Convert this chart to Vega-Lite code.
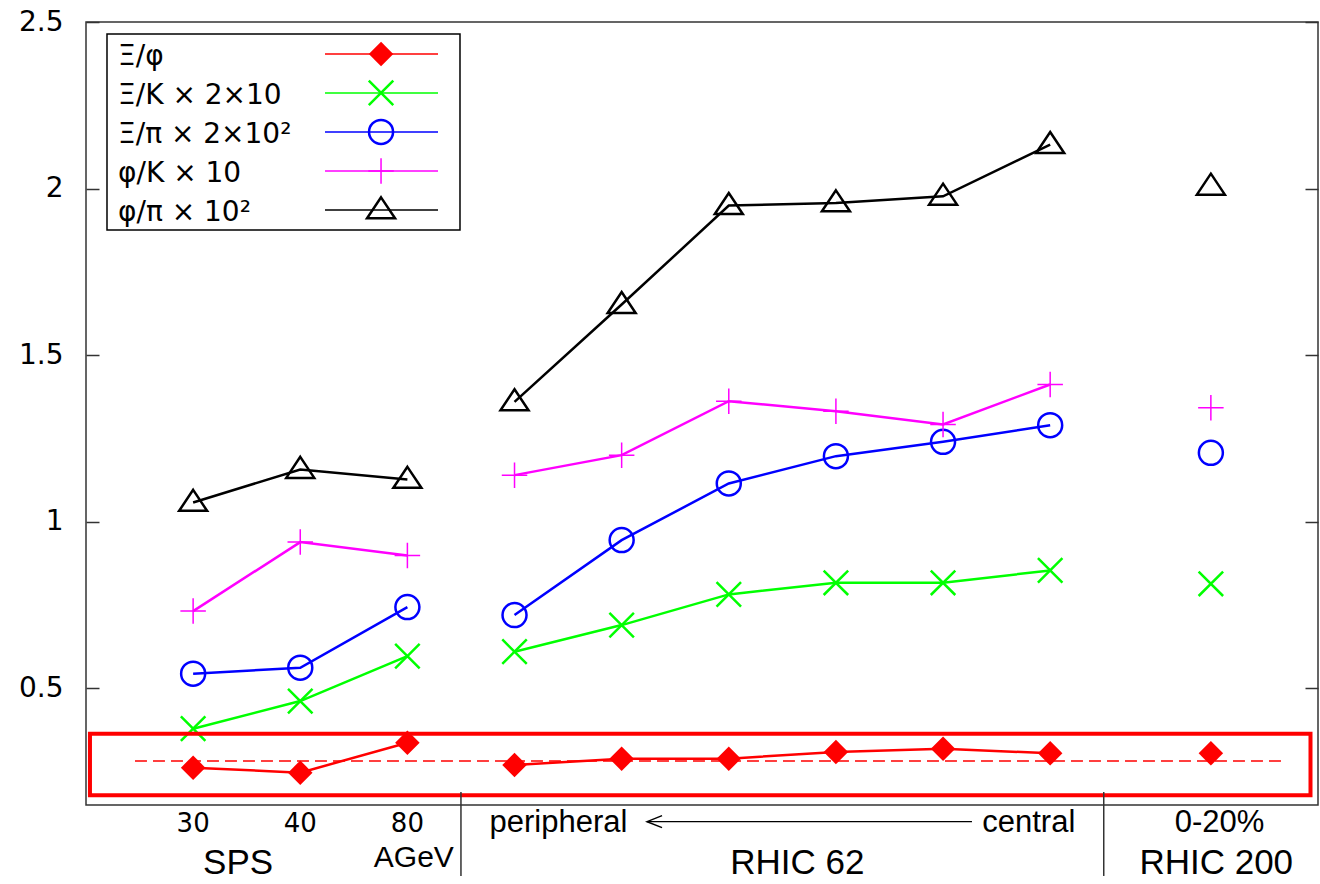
{
  "$schema": "https://vega.github.io/schema/vega-lite/v6.json",
  "width": 1232,
  "height": 783,
  "autosize": {"type": "none"},
  "padding": {"left": 86, "top": 22, "right": 2, "bottom": 79},
  "background": "white",
  "config": {"view": {"stroke": "#333333", "strokeWidth": 1.5}, "font": "DejaVu Sans"},
  "datasets": {
    "pts": [
      {"series": "phipi", "grp": "sps", "x": 1, "y": 1.058},
      {"series": "phipi", "grp": "sps", "x": 2, "y": 1.157},
      {"series": "phipi", "grp": "sps", "x": 3, "y": 1.127},
      {"series": "phipi", "grp": "r62", "x": 4, "y": 1.36},
      {"series": "phipi", "grp": "r62", "x": 5, "y": 1.652},
      {"series": "phipi", "grp": "r62", "x": 6, "y": 1.949},
      {"series": "phipi", "grp": "r62", "x": 7, "y": 1.957},
      {"series": "phipi", "grp": "r62", "x": 8, "y": 1.977},
      {"series": "phipi", "grp": "r62", "x": 9, "y": 2.132},
      {"series": "phipi", "grp": "r200", "x": 10.5, "y": 2.007},
      {"series": "phik", "grp": "sps", "x": 1, "y": 0.732},
      {"series": "phik", "grp": "sps", "x": 2, "y": 0.939},
      {"series": "phik", "grp": "sps", "x": 3, "y": 0.899},
      {"series": "phik", "grp": "r62", "x": 4, "y": 1.14},
      {"series": "phik", "grp": "r62", "x": 5, "y": 1.2},
      {"series": "phik", "grp": "r62", "x": 6, "y": 1.362},
      {"series": "phik", "grp": "r62", "x": 7, "y": 1.332},
      {"series": "phik", "grp": "r62", "x": 8, "y": 1.292},
      {"series": "phik", "grp": "r62", "x": 9, "y": 1.412},
      {"series": "phik", "grp": "r200", "x": 10.5, "y": 1.342},
      {"series": "xipi", "grp": "sps", "x": 1, "y": 0.544},
      {"series": "xipi", "grp": "sps", "x": 2, "y": 0.562},
      {"series": "xipi", "grp": "sps", "x": 3, "y": 0.744},
      {"series": "xipi", "grp": "r62", "x": 4, "y": 0.72},
      {"series": "xipi", "grp": "r62", "x": 5, "y": 0.945},
      {"series": "xipi", "grp": "r62", "x": 6, "y": 1.115},
      {"series": "xipi", "grp": "r62", "x": 7, "y": 1.197},
      {"series": "xipi", "grp": "r62", "x": 8, "y": 1.24},
      {"series": "xipi", "grp": "r62", "x": 9, "y": 1.29},
      {"series": "xipi", "grp": "r200", "x": 10.5, "y": 1.207},
      {"series": "xik", "grp": "sps", "x": 1, "y": 0.379},
      {"series": "xik", "grp": "sps", "x": 2, "y": 0.462},
      {"series": "xik", "grp": "sps", "x": 3, "y": 0.597},
      {"series": "xik", "grp": "r62", "x": 4, "y": 0.61},
      {"series": "xik", "grp": "r62", "x": 5, "y": 0.69},
      {"series": "xik", "grp": "r62", "x": 6, "y": 0.782},
      {"series": "xik", "grp": "r62", "x": 7, "y": 0.817},
      {"series": "xik", "grp": "r62", "x": 8, "y": 0.817},
      {"series": "xik", "grp": "r62", "x": 9, "y": 0.854},
      {"series": "xik", "grp": "r200", "x": 10.5, "y": 0.814},
      {"series": "xiphi", "grp": "sps", "x": 1, "y": 0.262},
      {"series": "xiphi", "grp": "sps", "x": 2, "y": 0.247},
      {"series": "xiphi", "grp": "sps", "x": 3, "y": 0.337},
      {"series": "xiphi", "grp": "r62", "x": 4, "y": 0.27},
      {"series": "xiphi", "grp": "r62", "x": 5, "y": 0.289},
      {"series": "xiphi", "grp": "r62", "x": 6, "y": 0.289},
      {"series": "xiphi", "grp": "r62", "x": 7, "y": 0.309},
      {"series": "xiphi", "grp": "r62", "x": 8, "y": 0.319},
      {"series": "xiphi", "grp": "r62", "x": 9, "y": 0.305},
      {"series": "xiphi", "grp": "r200", "x": 10.5, "y": 0.305}
    ],
    "legend": [
      {"series": "xiphi", "label": "Ξ/φ", "cy": 2.404, "by": 2.372},
      {"series": "xik", "label": "Ξ/K × 2×10", "cy": 2.287, "by": 2.255},
      {"series": "xipi", "label": "Ξ/π × 2×10²", "cy": 2.17, "by": 2.138},
      {"series": "phik", "label": "φ/K × 10", "cy": 2.053, "by": 2.021},
      {"series": "phipi", "label": "φ/π × 10²", "cy": 1.936, "by": 1.904}
    ],
    "labels": [
      {"text": "30", "x": 1, "y": 0.069, "kind": "num"},
      {"text": "40", "x": 2, "y": 0.069, "kind": "num"},
      {"text": "80", "x": 3, "y": 0.069, "kind": "num"},
      {"text": "AGeV", "x": 3.06, "y": -0.035, "kind": "agev"},
      {"text": "SPS", "x": 1.42, "y": -0.057, "kind": "big"},
      {"text": "RHIC 62", "x": 6.64, "y": -0.057, "kind": "big"},
      {"text": "RHIC 200", "x": 10.55, "y": -0.057, "kind": "big"},
      {"text": "peripheral", "x": 4.41, "y": 0.069, "kind": "mid"},
      {"text": "central", "x": 8.8, "y": 0.069, "kind": "mid"},
      {"text": "0-20%", "x": 10.58, "y": 0.069, "kind": "mid"}
    ],
    "seps": [{"x": 3.5}, {"x": 9.5}]
  },
  "layer": [
    {
      "data": {"values": [{}]},
      "mark": {"type": "rule", "stroke": "#ff0000", "strokeWidth": 1.5, "strokeDash": [12, 6], "clip": false},
      "encoding": {
        "x": {"datum": 0.457, "type": "quantitative", "scale": {"domain": [0, 11.5], "nice": false, "zero": false}, "axis": null},
        "x2": {"datum": 11.155},
        "y": {"datum": 0.282, "type": "quantitative", "scale": {"domain": [0.15, 2.5], "nice": false, "zero": false},
          "axis": {"orient": "right", "values": [0.5, 1, 1.5, 2, 2.5], "labels": false, "domain": false, "grid": false, "ticks": true, "tickSize": -13, "tickColor": "#333333", "tickWidth": 1.5, "title": null}}
      }
    },
    {
      "data": {"name": "pts"},
      "mark": {"type": "line", "strokeWidth": 2.5},
      "encoding": {
        "x": {"field": "x", "type": "quantitative", "scale": {"domain": [0, 11.5], "nice": false, "zero": false}, "axis": null},
        "y": {"field": "y", "type": "quantitative", "scale": {"domain": [0.15, 2.5], "nice": false, "zero": false},
          "axis": {"orient": "left", "values": [0.5, 1, 1.5, 2, 2.5], "format": "~g", "domain": false, "grid": false, "ticks": true, "tickSize": -13, "tickColor": "#333333", "tickWidth": 1.5, "labelFont": "DejaVu Sans", "labelFontSize": 28, "labelColor": "#000000", "labelPadding": 36, "labelFlush": false, "labelOverlap": false, "title": null}},
        "color": {"field": "series", "type": "nominal", "scale": {"domain": ["xiphi", "xik", "xipi", "phik", "phipi"], "range": ["#ff0000", "#00ff00", "#0000ff", "#ff00ff", "#000000"]}, "legend": null},
        "detail": {"field": "grp"}
      }
    },
    {
      "data": {"name": "pts"},
      "encoding": {
        "x": {"field": "x", "type": "quantitative", "axis": null},
        "y": {"field": "y", "type": "quantitative", "axis": null}
      },
      "layer": [
        {"transform": [{"filter": "datum.series === 'xiphi'"}], "mark": {"type": "point", "shape": "diamond", "size": 600, "filled": true, "color": "#ff0000", "opacity": 1}},
        {"transform": [{"filter": "datum.series === 'xik'"}], "mark": {"type": "point", "shape": "M-1,-1L1,1M-1,1L1,-1", "size": 600, "filled": false, "color": "#00ff00", "strokeWidth": 2.5, "opacity": 1}},
        {"transform": [{"filter": "datum.series === 'xipi'"}], "mark": {"type": "point", "shape": "circle", "size": 576, "filled": false, "color": "#0000ff", "strokeWidth": 2.5, "opacity": 1}},
        {"transform": [{"filter": "datum.series === 'phik'"}], "mark": {"type": "point", "shape": "M-1,0L1,0M0,-1L0,1", "size": 650, "filled": false, "color": "#ff00ff", "strokeWidth": 1.5, "opacity": 1}},
        {"transform": [{"filter": "datum.series === 'phipi'"}], "mark": {"type": "point", "shape": "M0,-0.9L1,0.6L-1,0.6Z", "size": 784, "filled": false, "color": "#000000", "strokeWidth": 2.5, "opacity": 1}}
      ]
    },
    {
      "data": {"values": [{}]},
      "mark": {"type": "rect", "fillOpacity": 0, "stroke": "#ff0000", "strokeWidth": 4, "clip": false},
      "encoding": {
        "x": {"datum": 0.037, "type": "quantitative", "axis": null},
        "x2": {"datum": 11.43},
        "y": {"datum": 0.364, "type": "quantitative", "axis": null},
        "y2": {"datum": 0.179}
      }
    },
    {
      "data": {"name": "seps"},
      "mark": {"type": "rule", "stroke": "#333333", "strokeWidth": 1.5, "clip": false},
      "encoding": {
        "x": {"field": "x", "type": "quantitative", "axis": null},
        "y": {"datum": 0.189, "type": "quantitative", "axis": null},
        "y2": {"datum": -0.063}
      }
    },
    {
      "data": {"values": [{}]},
      "mark": {"type": "rule", "stroke": "#000000", "strokeWidth": 1.2, "clip": false},
      "encoding": {
        "x": {"datum": 5.237, "type": "quantitative", "axis": null},
        "x2": {"datum": 8.27},
        "y": {"datum": 0.1, "type": "quantitative", "axis": null}
      }
    },
    {
      "data": {"values": [{}]},
      "mark": {"type": "point", "shape": "M2,-0.8L0,0L2,0.8", "size": 225, "filled": false, "color": "#000000", "strokeWidth": 1.5, "opacity": 1, "clip": false},
      "encoding": {
        "x": {"datum": 5.237, "type": "quantitative", "axis": null},
        "y": {"datum": 0.1, "type": "quantitative", "axis": null}
      }
    },
    {
      "data": {"name": "labels"},
      "encoding": {
        "x": {"field": "x", "type": "quantitative", "axis": null},
        "y": {"field": "y", "type": "quantitative", "axis": null},
        "text": {"field": "text"}
      },
      "layer": [
        {"transform": [{"filter": "datum.kind === 'num'"}], "mark": {"type": "text", "font": "DejaVu Sans", "fontSize": 26, "align": "center", "baseline": "alphabetic", "color": "#000000", "clip": false}},
        {"transform": [{"filter": "datum.kind === 'mid'"}], "mark": {"type": "text", "font": "Liberation Sans", "fontSize": 31, "align": "center", "baseline": "alphabetic", "color": "#000000", "clip": false}},
        {"transform": [{"filter": "datum.kind === 'big'"}], "mark": {"type": "text", "font": "Liberation Sans", "fontSize": 35, "align": "center", "baseline": "alphabetic", "color": "#000000", "clip": false}},
        {"transform": [{"filter": "datum.kind === 'agev'"}], "mark": {"type": "text", "font": "Liberation Sans", "fontSize": 30, "align": "center", "baseline": "alphabetic", "color": "#000000", "clip": false}}
      ]
    },
    {
      "data": {"values": [{}]},
      "mark": {"type": "rect", "fill": "#ffffff", "stroke": "#000000", "strokeWidth": 1.5},
      "encoding": {
        "x": {"datum": 0.196, "type": "quantitative", "axis": null},
        "x2": {"datum": 3.491},
        "y": {"datum": 2.464, "type": "quantitative", "axis": null},
        "y2": {"datum": 1.876}
      }
    },
    {
      "data": {"name": "legend"},
      "mark": {"type": "rule", "strokeWidth": 1.5},
      "encoding": {
        "x": {"datum": 2.231, "type": "quantitative", "axis": null},
        "x2": {"datum": 3.286},
        "y": {"field": "cy", "type": "quantitative", "axis": null},
        "color": {"field": "series", "type": "nominal", "legend": null}
      }
    },
    {
      "data": {"name": "legend"},
      "encoding": {
        "x": {"datum": 2.754, "type": "quantitative", "axis": null},
        "y": {"field": "cy", "type": "quantitative", "axis": null}
      },
      "layer": [
        {"transform": [{"filter": "datum.series === 'xiphi'"}], "mark": {"type": "point", "shape": "diamond", "size": 600, "filled": true, "color": "#ff0000", "opacity": 1}},
        {"transform": [{"filter": "datum.series === 'xik'"}], "mark": {"type": "point", "shape": "M-1,-1L1,1M-1,1L1,-1", "size": 600, "filled": false, "color": "#00ff00", "strokeWidth": 2.5, "opacity": 1}},
        {"transform": [{"filter": "datum.series === 'xipi'"}], "mark": {"type": "point", "shape": "circle", "size": 576, "filled": false, "color": "#0000ff", "strokeWidth": 2.5, "opacity": 1}},
        {"transform": [{"filter": "datum.series === 'phik'"}], "mark": {"type": "point", "shape": "M-1,0L1,0M0,-1L0,1", "size": 650, "filled": false, "color": "#ff00ff", "strokeWidth": 1.5, "opacity": 1}},
        {"transform": [{"filter": "datum.series === 'phipi'"}], "mark": {"type": "point", "shape": "M0,-0.9L1,0.6L-1,0.6Z", "size": 784, "filled": false, "color": "#000000", "strokeWidth": 2.5, "opacity": 1}}
      ]
    },
    {
      "data": {"name": "legend"},
      "mark": {"type": "text", "font": "DejaVu Sans", "fontSize": 28, "align": "left", "baseline": "alphabetic", "color": "#000000"},
      "encoding": {
        "x": {"datum": 0.299, "type": "quantitative", "axis": null},
        "y": {"field": "by", "type": "quantitative", "axis": null},
        "text": {"field": "label"}
      }
    }
  ],
  "resolve": {"axis": {"y": "independent"}}
}
